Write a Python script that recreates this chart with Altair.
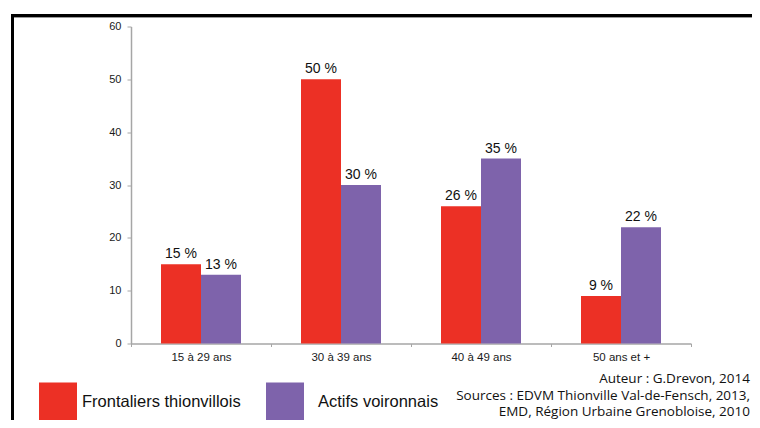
import altair as alt
import pandas as pd

# ---- data ----
categories = ["15 à 29 ans", "30 à 39 ans", "40 à 49 ans", "50 ans et +"]
series = ["Frontaliers thionvillois", "Actifs voironnais"]
frontaliers = [15, 50, 26, 9]
actifs = [13, 30, 35, 22]
colors = ["#EC3025", "#7E63AB"]
y_ticks = [0, 10, 20, 30, 40, 50, 60]
source_lines = [
    "Auteur : G.Drevon, 2014",
    "Sources : EDVM Thionville Val-de-Fensch, 2013,",
    "EMD, Région Urbaine Grenobloise, 2010",
]

rows = []
for c, a, b in zip(categories, frontaliers, actifs):
    rows.append({"cat": c, "series": series[0], "value": a, "label": f"{a} %"})
    rows.append({"cat": c, "series": series[1], "value": b, "label": f"{b} %"})
df = pd.DataFrame(rows)

FONT = "Liberation Sans"

x_enc = alt.X(
    "cat:N",
    sort=categories,
    scale=alt.Scale(paddingInner=0, paddingOuter=0),
    axis=alt.Axis(
        title=None,
        labelAngle=0,
        labelFont=FONT,
        labelFontSize=11.5,
        labelColor="#1a1a1a",
        labelPadding=5,
        tickBand="extent",
        tickSize=3,
        tickColor="#A6A6A6",
        domainColor="#A6A6A6",
        domainWidth=1.5,
        tickWidth=1,
        grid=False,
    ),
)
xoff_enc = alt.XOffset(
    "series:N", sort=series,
    scale=alt.Scale(domain=series, paddingInner=0, paddingOuter=0.75),
)
y_enc = alt.Y(
    "value:Q",
    scale=alt.Scale(domain=[0, 60], nice=False),
    axis=alt.Axis(
        title=None,
        values=y_ticks,
        labelFont=FONT,
        labelFontSize=11,
        labelColor="#1a1a1a",
        labelPadding=6,
        tickSize=4,
        tickColor="#A6A6A6",
        domainColor="#A6A6A6",
        domainWidth=1.5,
        grid=False,
    ),
)

base = alt.Chart(df)


def bar_layer(i, lx, loff):
    return base.transform_filter(alt.datum.series == series[i]).mark_bar().encode(
        x=x_enc,
        xOffset=xoff_enc,
        y=y_enc,
        color=alt.Color(
            "series:N",
            scale=alt.Scale(domain=[series[i]], range=[colors[i]]),
            legend=alt.Legend(
                title=None,
                orient="none",
                legendX=lx,
                legendY=356,
                padding=0,
                symbolType="square",
                symbolSize=1444,
                symbolStrokeWidth=0,
                symbolOpacity=1,
                labelFont=FONT,
                labelFontSize=16.5,
                labelColor="#111111",
                labelOffset=loff,
                labelLimit=400,
            ),
        ),
    )


bars_a = bar_layer(0, -92, 5)
bars_b = bar_layer(1, 135, 14)

labels = base.mark_text(
    font=FONT, fontSize=14, color="#111111", baseline="alphabetic", dy=-6
).encode(x=x_enc, xOffset=xoff_enc, y=y_enc, text="label:N")

one = alt.Chart(pd.DataFrame({"k": [0]}))
frame_top = one.mark_rule(color="#000000", strokeWidth=3).encode(
    x=alt.value(-120), x2=alt.value(640), y=alt.value(-11)
)
frame_shadow = one.mark_rule(color="#9a9a9a", strokeWidth=1).encode(
    x=alt.value(-117), x2=alt.value(640), y=alt.value(-9)
)
frame_left = one.mark_rule(color="#000000", strokeWidth=3).encode(
    x=alt.value(-118.5), y=alt.value(-12.5), y2=alt.value(410)
)

src = pd.DataFrame({"t": ["\n".join(source_lines)]})
source = alt.Chart(src).mark_text(
    font="Open Sans", fontSize=13.5, color="#111111", align="right",
    baseline="alphabetic", lineBreak="\n", lineHeight=16.5,
).encode(x=alt.value(619), y=alt.value(356.5), text="t:N")

chart = (
    alt.layer(bars_a, bars_b, labels, frame_top, frame_shadow, frame_left, source)
    .resolve_scale(color="independent")
    .properties(
        width=560,
        height=317,
        autosize=alt.AutoSizeParams(type="none"),
        padding={"left": 123, "top": 18.5, "right": 61, "bottom": 76.5},
        background="white",
    )
    .configure_view(stroke=None)
)

chart.save("out.html", embed_options={"renderer": "svg", "actions": False})
